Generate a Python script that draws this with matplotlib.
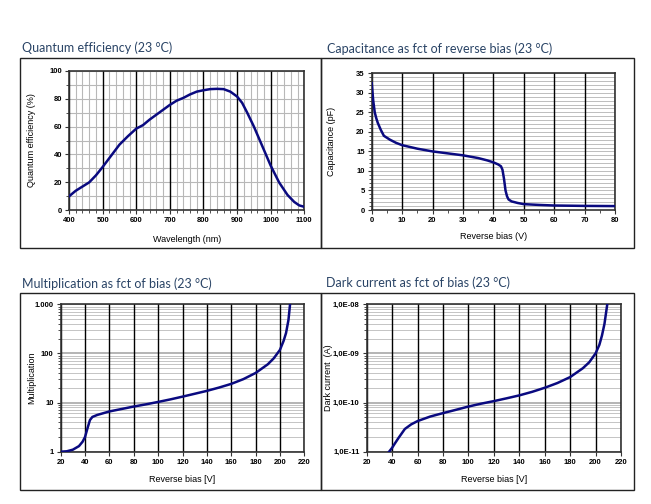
import matplotlib
matplotlib.use("Agg")
import matplotlib.pyplot as plt
from matplotlib.patches import Rectangle
from matplotlib.ticker import MultipleLocator, FixedLocator, LogLocator, NullFormatter, FuncFormatter
import numpy as np

# ---------------- data ----------------
qe_wavelength = [400, 420, 440, 460, 480, 500, 525, 550, 575, 600, 620, 640, 660, 680, 700, 720, 740, 760,
                 780, 800, 820, 840, 860, 880, 900, 915, 930, 950, 975, 1000, 1025, 1050, 1070, 1085, 1100]
qe_percent = [10, 14, 17, 20, 25, 31, 39, 47, 53, 58.5, 61, 65, 68.5, 72, 75.5, 78.5, 80.5, 83,
              85, 86, 86.8, 87, 86.8, 85, 81.5, 77, 70, 60, 46, 32, 20, 11, 6, 3.5, 2.5]

cap_bias = [0, 0.5, 1, 1.5, 2, 3, 4, 6, 8, 10, 15, 20, 25, 30, 35, 38, 40, 41.5, 42.5, 43, 43.5, 44,
            44.5, 45, 46, 48, 50, 55, 60, 70, 80]
cap_pF = [32.5, 28, 25, 23.5, 22.3, 20.5, 19, 18, 17.2, 16.6, 15.7, 15, 14.5, 14, 13.3, 12.7, 12.2,
          11.7, 11.2, 10.3, 8, 5, 3.5, 2.7, 2.2, 1.8, 1.5, 1.3, 1.15, 1.05, 1.0]

mult_bias = [20, 25, 30, 35, 38, 40, 42, 44, 46, 50, 60, 70, 80, 90, 100, 110, 120, 130, 140, 150, 160,
             170, 180, 190, 195, 200, 203, 205, 207, 208.3]
mult_gain = [1.0, 1.02, 1.1, 1.3, 1.6, 2.0, 3.0, 4.4, 5.1, 5.6, 6.6, 7.4, 8.3, 9.2, 10.3, 11.6, 13.2,
             15.1, 17.3, 20.2, 24, 30, 40, 60, 80, 118, 180, 260, 480, 1000]

dark_bias = [37.6, 40, 42, 45, 50, 55, 60, 70, 80, 90, 100, 110, 120, 130, 140, 150, 160, 170, 180, 190,
             195, 200, 203, 205, 207, 209.2]
dark_A = [1.0e-11, 1.2e-11, 1.45e-11, 1.9e-11, 2.9e-11, 3.6e-11, 4.2e-11, 5.2e-11, 6.1e-11, 7.1e-11,
          8.3e-11, 9.5e-11, 1.07e-10, 1.22e-10, 1.4e-10, 1.65e-10, 2.0e-10, 2.5e-10, 3.3e-10, 5.0e-10,
          6.6e-10, 1.0e-9, 1.5e-9, 2.3e-9, 4.0e-9, 1.0e-8]

titles = ["Quantum efficiency (23 \u00b0C)", "Capacitance as fct of reverse bias (23 \u00b0C)",
          "Multiplication as fct of bias (23 \u00b0C)", "Dark current as fct of bias (23 \u00b0C)"]

# ---------------- figure ----------------
W, H = 651, 504
fig = plt.figure(figsize=(W / 100, H / 100), dpi=100)
fig.patch.set_facecolor("white")

LINE = "#0a0a80"
TITLE_C = "#2a4466"
TFONT = "Lato"
AFONT = "Liberation Sans"


def px_axes(l, t, r, b):
    return fig.add_axes([l / W, 1 - b / H, (r - l) / W, (b - t) / H])


def frame(l, t, r, b):
    fig.patches.append(Rectangle((l / W, 1 - b / H), (r - l) / W, (b - t) / H, transform=fig.transFigure,
                                 fill=False, edgecolor="#222222", linewidth=1.0, zorder=0))


def title(x, y, s):
    fig.text(x / W, 1 - y / H, s, fontsize=9.0, family=TFONT, color=TITLE_C, va="center", ha="left")


def style(ax, xlabel, ylabel, box, ylab_x, xlab_y):
    l, t, r, b = box
    for s in ax.spines.values():
        s.set_color("#333333")
        s.set_linewidth(1.2)
    ax.tick_params(axis="both", which="major", labelsize=5.5, length=3, width=0.8, color="#333333", pad=2)
    ax.tick_params(axis="both", which="minor", length=2, width=0.6, color="#333333")
    for lab in ax.get_xticklabels() + ax.get_yticklabels():
        lab.set_fontweight("bold")
        lab.set_family(AFONT)
    ax.set_xlabel(xlabel, fontsize=6.5, family=AFONT)
    ax.set_ylabel(ylabel, fontsize=6.5, family=AFONT)
    # label positions (axes fraction from pixel positions)
    ax.yaxis.set_label_coords((ylab_x - l) / (r - l), 0.5)
    ax.xaxis.set_label_coords(0.5, (b - xlab_y) / (b - t))
    ax.xaxis.label.set_va("center")
    ax.yaxis.label.set_va("center")
    ax.set_axisbelow(True)
    # horizontal grid below vertical grid
    ax.yaxis.set_zorder(0.3)
    ax.xaxis.set_zorder(0.6)


# frames and titles
frame(20, 58, 321, 248)
frame(321, 58, 634, 248)
frame(20, 293, 321, 490)
frame(321, 293, 634, 490)
title(22, 48, titles[0])
title(327, 49, titles[1])
title(22, 284, titles[2])
title(326, 283, titles[3])

# ---- panel 1: QE ----
b1 = (69, 70.7, 304.3, 210.3)
ax1 = px_axes(*b1)
ax1.plot(qe_wavelength, qe_percent, color=LINE, lw=1.8, zorder=3)
ax1.set_xlim(400, 1100)
ax1.set_ylim(0, 100)
ax1.xaxis.set_major_locator(MultipleLocator(100))
ax1.xaxis.set_minor_locator(MultipleLocator(20))
ax1.yaxis.set_major_locator(MultipleLocator(20))
ax1.yaxis.set_minor_locator(MultipleLocator(10))
ax1.grid(True, axis="x", which="minor", color="#b8b8b8", lw=0.8)
ax1.grid(True, axis="y", which="both", color="#b8b8b8", lw=0.8)
ax1.grid(True, axis="x", which="major", color="#000000", lw=1.0)
ax1.tick_params(axis="y", which="minor", length=0)
style(ax1, "Wavelength (nm)", "Quantum efficiency (%)", b1, 32, 240)

# ---- panel 2: capacitance ----
b2 = (371.7, 73.3, 615, 210)
ax2 = px_axes(*b2)
ax2.plot(cap_bias, cap_pF, color=LINE, lw=1.8, zorder=3)
ax2.set_xlim(0, 80)
ax2.set_ylim(0, 35)
ax2.xaxis.set_major_locator(MultipleLocator(10))
ax2.xaxis.set_minor_locator(MultipleLocator(5))
ax2.yaxis.set_major_locator(MultipleLocator(5))
ax2.yaxis.set_minor_locator(MultipleLocator(1))
ax2.grid(True, axis="y", which="both", color="#bdbdbd", lw=0.7)
ax2.grid(True, axis="x", which="major", color="#000000", lw=1.0)
ax2.tick_params(axis="y", which="minor", length=0)
style(ax2, "Reverse bias (V)", "Capacitance (pF)", b2, 332, 236)

# ---- panel 3: multiplication ----
b3 = (60.7, 304.3, 304.3, 451.7)
ax3 = px_axes(*b3)
ax3.plot(mult_bias, mult_gain, color=LINE, lw=1.8, zorder=3)
ax3.set_yscale("log")
ax3.set_xlim(20, 220)
ax3.set_ylim(1, 1000)
ax3.xaxis.set_major_locator(MultipleLocator(20))
ax3.yaxis.set_major_locator(FixedLocator([1, 10, 100, 1000]))
ax3.yaxis.set_minor_locator(LogLocator(base=10, subs=np.arange(2, 10)))
ax3.yaxis.set_minor_formatter(NullFormatter())
ax3.yaxis.set_major_formatter(FuncFormatter(lambda v, p: {1: "1", 10: "10", 100: "100", 1000: "1.000"}.get(int(round(v)), "")))
ax3.grid(True, axis="y", which="minor", color="#c4c4c4", lw=0.7)
ax3.grid(True, axis="y", which="major", color="#a8a8a8", lw=1.2)
ax3.grid(True, axis="x", which="major", color="#000000", lw=1.0)
ax3.tick_params(axis="y", which="minor", length=0)
style(ax3, "Reverse bias [V]", "Multiplication", b3, 32, 480)

# ---- panel 4: dark current ----
b4 = (366.7, 304.3, 621, 451.7)
ax4 = px_axes(*b4)
ax4.plot(dark_bias, dark_A, color=LINE, lw=1.8, zorder=3)
ax4.set_yscale("log")
ax4.set_xlim(20, 220)
ax4.set_ylim(1e-11, 1e-8)
ax4.xaxis.set_major_locator(MultipleLocator(20))
ax4.yaxis.set_major_locator(FixedLocator([1e-11, 1e-10, 1e-9, 1e-8]))
ax4.yaxis.set_minor_locator(LogLocator(base=10, subs=np.arange(2, 10)))
ax4.yaxis.set_minor_formatter(NullFormatter())
ax4.yaxis.set_major_formatter(FuncFormatter(lambda v, p: "1,0E-%02d" % int(round(-np.log10(v)))))
ax4.grid(True, axis="y", which="minor", color="#c4c4c4", lw=0.7)
ax4.grid(True, axis="y", which="major", color="#a8a8a8", lw=1.2)
ax4.grid(True, axis="x", which="major", color="#000000", lw=1.0)
ax4.tick_params(axis="y", which="minor", length=0)
style(ax4, "Reverse bias [V]", "Dark current  (A)", b4, 328, 479)

fig.savefig("out.png", dpi=100, facecolor="white")
